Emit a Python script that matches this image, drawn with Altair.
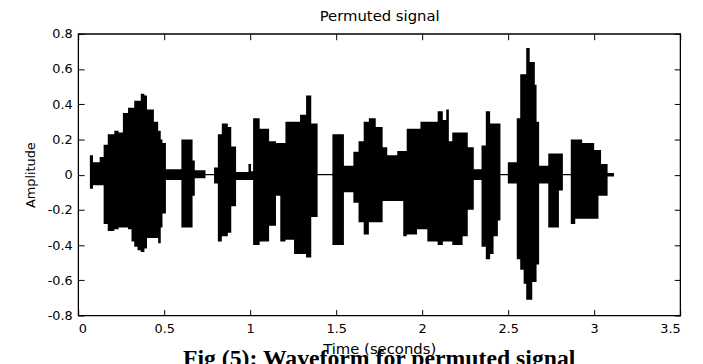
import altair as alt
import pandas as pd

# Envelope of the permuted speech waveform
seg_start = [0.068, 0.086, 0.125, 0.148, 0.172, 0.21, 0.235, 0.26, 0.29, 0.31,
             0.326, 0.345, 0.364, 0.385, 0.40, 0.44, 0.465, 0.48, 0.49, 0.51,
             0.60, 0.665, 0.678, 0.74, 0.79, 0.812, 0.835, 0.87, 0.89, 0.918,
             0.99, 1.005, 1.017, 1.055, 1.11, 1.15, 1.175, 1.205, 1.255, 1.29,
             1.325, 1.355, 1.392, 1.478, 1.545, 1.60, 1.63, 1.66, 1.69, 1.73,
             1.77, 1.797, 1.855, 1.89, 1.91, 1.97, 1.99, 2.03, 2.09, 2.12,
             2.14, 2.155, 2.175, 2.235, 2.265, 2.30, 2.345, 2.37, 2.395, 2.415,
             2.44, 2.455, 2.498, 2.55, 2.57, 2.59, 2.605, 2.625, 2.64, 2.655,
             2.665, 2.68, 2.733, 2.795, 2.818, 2.864, 2.89, 2.93, 3.0, 3.025,
             3.04, 3.078, 3.115]
upper = [0.11, 0.07, 0.10, 0.17, 0.23, 0.25, 0.24, 0.35, 0.38, 0.38,
         0.42, 0.42, 0.46, 0.45, 0.37, 0.30, 0.25, 0.20, 0.18, 0.03,
         0.20, 0.08, 0.025, 0.004, 0.04, 0.23, 0.29, 0.27, 0.16, 0.015,
         0.06, 0.02, 0.32, 0.26, 0.19, 0.18, 0.18, 0.30, 0.30, 0.34,
         0.45, 0.29, 0.004, 0.23, 0.05, 0.13, 0.19, 0.30, 0.32, 0.27,
         0.155, 0.11, 0.135, 0.135, 0.26, 0.26, 0.30, 0.30, 0.36, 0.31,
         0.37, 0.19, 0.24, 0.24, 0.155, 0.03, 0.165, 0.36, 0.29, 0.29,
         0.29, 0.004, 0.07, 0.32, 0.57, 0.57, 0.72, 0.64, 0.64, 0.51,
         0.30, 0.05, 0.12, 0.12, 0.004, 0.20, 0.20, 0.18, 0.14, 0.14,
         0.06, 0.01, 0.0]
lower = [-0.08, -0.06, -0.06, -0.28, -0.32, -0.31, -0.30, -0.30, -0.31, -0.38,
         -0.41, -0.43, -0.44, -0.42, -0.36, -0.36, -0.39, -0.30, -0.22, -0.03,
         -0.30, -0.12, -0.02, -0.004, -0.05, -0.38, -0.35, -0.33, -0.18, -0.03,
         -0.03, -0.03, -0.40, -0.38, -0.29, -0.12, -0.38, -0.37, -0.45, -0.45,
         -0.47, -0.24, -0.004, -0.40, -0.10, -0.16, -0.27, -0.34, -0.27, -0.27,
         -0.15, -0.15, -0.15, -0.35, -0.34, -0.31, -0.31, -0.38, -0.40, -0.38,
         -0.38, -0.38, -0.40, -0.35, -0.20, -0.03, -0.41, -0.48, -0.45, -0.35,
         -0.26, -0.004, -0.05, -0.48, -0.54, -0.62, -0.71, -0.71, -0.61, -0.61,
         -0.51, -0.05, -0.30, -0.09, -0.004, -0.28, -0.25, -0.25, -0.25, -0.12,
         -0.12, -0.01, 0.0]

x_ticks = [0, 0.5, 1, 1.5, 2, 2.5, 3, 3.5]
y_ticks = [-0.8, -0.6, -0.4, -0.2, 0, 0.2, 0.4, 0.6, 0.8]

df = pd.DataFrame({"t": seg_start, "upper": upper, "lower": lower})

SANS = "DejaVu Sans"
TICK = 6
x_scale = alt.Scale(domain=[0, 3.5], nice=False, zero=False)
y_scale = alt.Scale(domain=[-0.8, 0.8], nice=False, zero=False)

wave = alt.Chart(df).mark_area(interpolate="step-after", color="black", opacity=1).encode(
    x=alt.X("t:Q", scale=x_scale,
            axis=alt.Axis(orient="bottom", values=x_ticks, labelExpr="'' + datum.value",
                          offset=-TICK, tickSize=TICK, tickColor="black", domain=False, grid=False,
                          labelPadding=7, labelFont=SANS, labelFontSize=13, labelColor="black",
                          title="Time (seconds)", titleFont=SANS, titleFontSize=15,
                          titleFontWeight="normal", titleColor="black", titlePadding=6)),
    y=alt.Y("upper:Q", scale=y_scale,
            axis=alt.Axis(orient="left", values=y_ticks, labelExpr="'' + datum.value",
                          offset=-TICK, tickSize=TICK, tickColor="black", domain=False, grid=False,
                          labelPadding=6, labelFont=SANS, labelFontSize=13, labelColor="black",
                          title="Amplitude", titleFont=SANS, titleFontSize=13,
                          titleFontWeight="normal", titleColor="black", titlePadding=10)),
    y2="lower:Q",
)

frame = alt.Chart(df).mark_area(interpolate="step-after", opacity=0).encode(
    x=alt.X("t:Q", scale=x_scale,
            axis=alt.Axis(orient="top", values=x_ticks, labels=False,
                          offset=-TICK, tickSize=TICK, tickColor="black", domain=False, grid=False,
                          title="Permuted signal", titleFont=SANS, titleFontSize=15,
                          titleFontWeight="normal", titleColor="black", titlePadding=10)),
    y=alt.Y("upper:Q", scale=y_scale,
            axis=alt.Axis(orient="right", values=y_ticks, labels=False,
                          offset=-TICK, tickSize=TICK, tickColor="black", domain=False, grid=False,
                          title="")),
    y2="lower:Q",
)

chart = alt.layer(wave, frame).resolve_axis(x="independent", y="independent").properties(
    width=609, height=285,
    padding={"left": 71, "top": 24, "right": 15, "bottom": 50},
    autosize=alt.AutoSizeParams(type="none"),
    background="white",
    title=alt.TitleParams("Fig (5): Waveform for permuted signal", orient="bottom",
                          font="Liberation Serif", fontSize=24, fontWeight="bold",
                          color="black", anchor="middle", offset=-9),
).configure_view(stroke="black", strokeWidth=1.3)

chart.save("out.html", embed_options={"renderer": "svg", "actions": False})
